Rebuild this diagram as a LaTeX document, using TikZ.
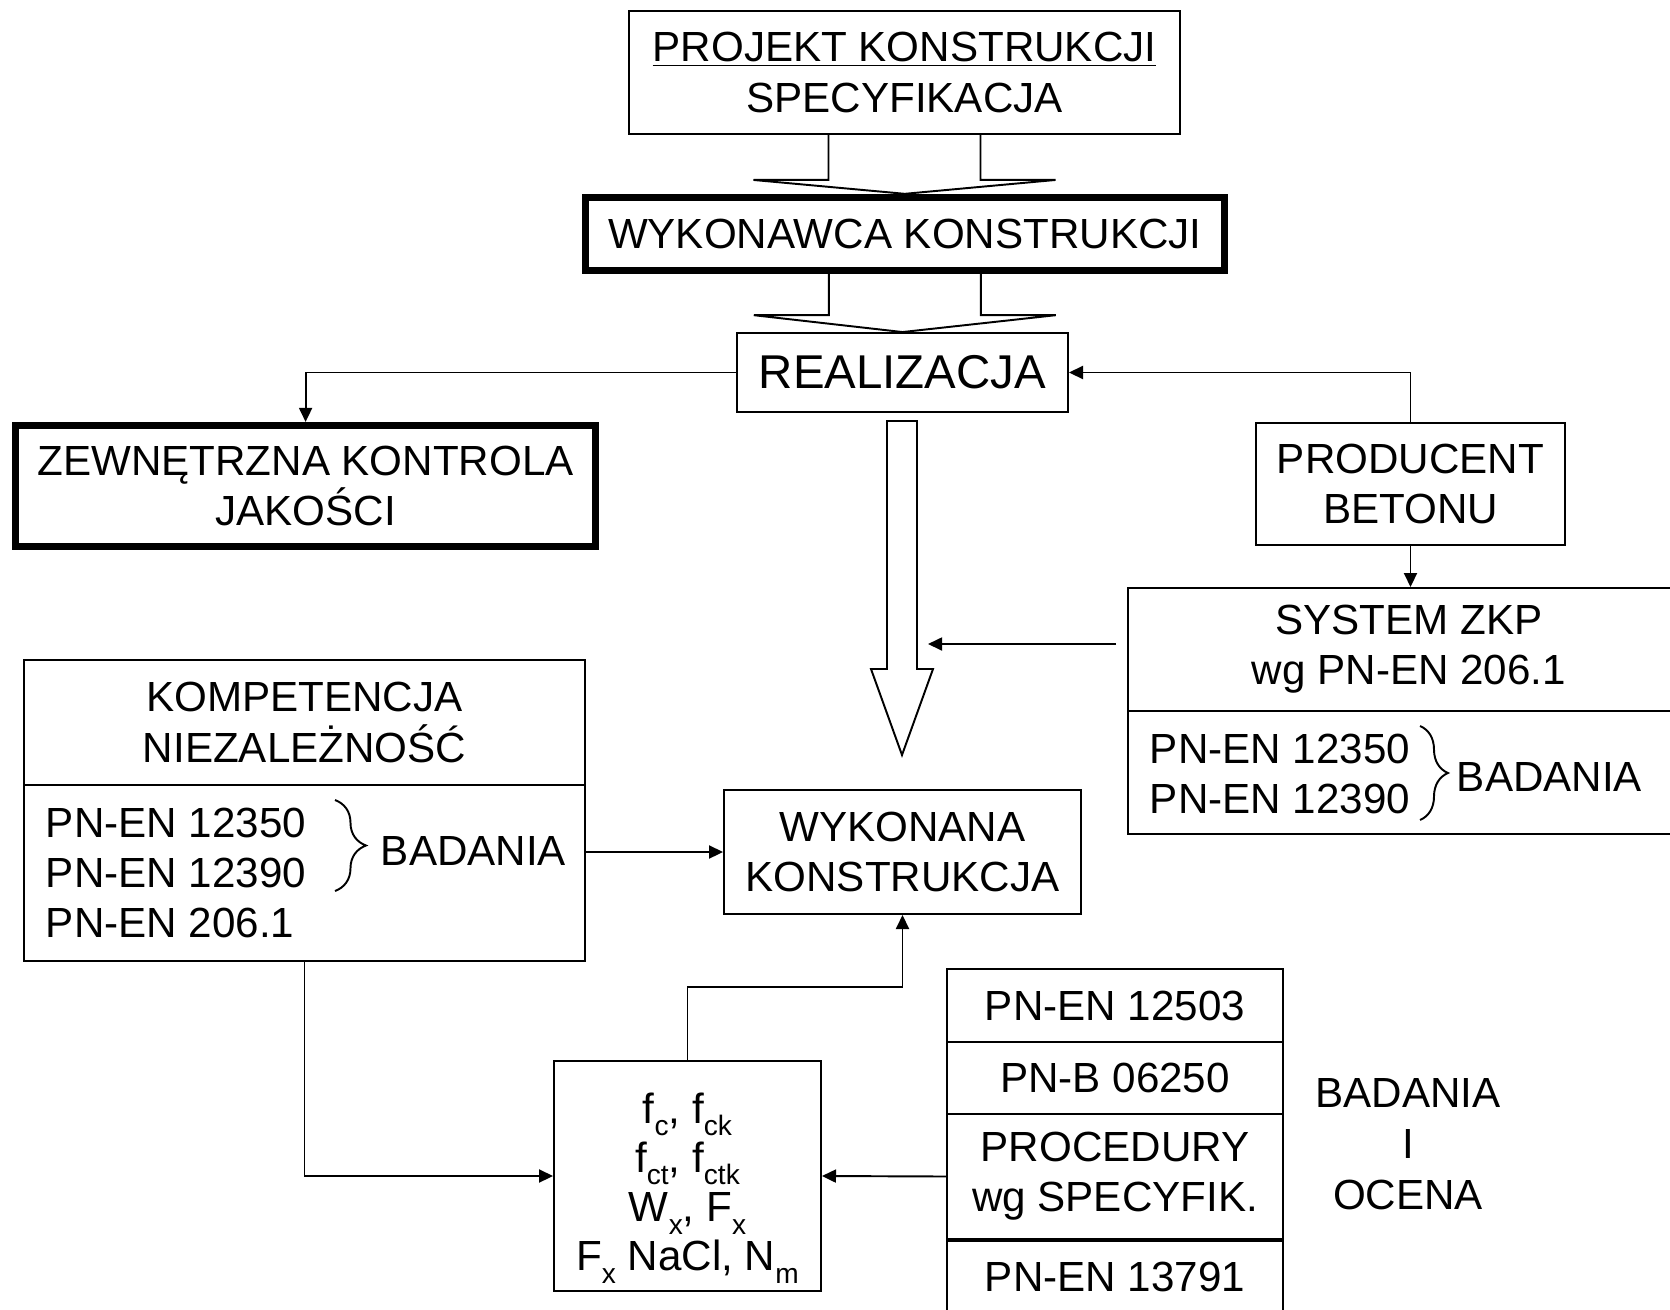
\documentclass[tikz,border=0pt]{standalone}
\usepackage{fontspec}
\setmainfont{Liberation Sans}
\usepackage{tikz}
\usetikzlibrary{arrows.meta,positioning,calc,decorations.pathreplacing}

\newcommand\lowidx[1]{\raisebox{-7pt}{\fontsize{16}{16}\selectfont #1}}

\begin{document}
\begin{tikzpicture}[
	x=0.02cm,y=-0.02cm,
	>={Triangle[length=8pt,width=7.4pt]},
	line width=1.1pt,
	every node/.style={font=\fontsize{24}{28.5}\selectfont},
	box/.style={draw, line width=1.1pt, inner sep=0pt, align=center},
	thickbox/.style={box, line width=4.2pt},
	txt/.style={inner sep=0pt, align=left},
	]
	
	\useasboundingbox (0,0) rectangle (1670,1309);
	\clip (0,0) rectangle (1670,1309);
	
	% --------------------------
	% Top: design, contractor, execution
	% --------------------------
	\node[box, minimum width=11.02cm, minimum height=2.46cm] (proj) at (904.5,72.5) {\underline{PROJEKT KONSTRUKCJI}\\SPECYFIKACJA};
	\node[thickbox, minimum width=12.78cm, minimum height=1.46cm] (wyk) at (904.8,234) {WYKONAWCA KONSTRUKCJI};
	\node[box, minimum width=6.62cm, minimum height=1.58cm, font=\fontsize{27}{32}\selectfont] (real) at (902.5,372.5) {REALIZACJA};
	
	% hollow block arrows
	\draw ($(proj.south)+(-76,0)$) -- ++(0,45) -- ++(-75,0) -- (wyk.north)
		-- ($(proj.south)+(151,45)$) -- ++(-75,0) -- ++(0,-45);
	\draw ($(wyk.south)+(-76,0)$) -- ++(0,41) -- ++(-75,0) -- (real.north)
		-- ($(wyk.south)+(151,41)$) -- ++(-75,0) -- ++(0,-41);
	
	% --------------------------
	% Left: external quality control
	% --------------------------
	\node[thickbox, minimum width=11.6cm, minimum height=2.42cm] (zewn) at (305.6,486.1) {ZEWNĘTRZNA KONTROLA\\JAKOŚCI};
	\node[box, minimum width=11.22cm, minimum height=2.5cm] (komptop) at (304.5,722.5) {KOMPETENCJA\\NIEZALEŻNOŚĆ};
	\node[box, minimum width=11.22cm, minimum height=3.52cm] (kompbot) at (304.5,873) {};
	\node[txt, anchor=west] (komppn) at (45,873) {PN-EN 12350\\PN-EN 12390\\PN-EN 206.1};
	\draw[decorate, decoration={brace, amplitude=0.62cm}] (335,800) -- (335,891);
	\node[txt, anchor=west] (kompbad) at (380,851) {BADANIA};
	
	% --------------------------
	% Right: concrete producer
	% --------------------------
	\node[box, minimum width=6.18cm, minimum height=2.44cm] (prod) at (1410.5,484) {PRODUCENT\\BETONU};
	\node[box, minimum width=11.24cm, minimum height=2.46cm] (systop) at (1409,649.5) {SYSTEM ZKP\\wg PN-EN 206.1};
	\node[box, minimum width=11.24cm, minimum height=2.46cm] (sysbot) at (1409,772.5) {};
	\node[txt, anchor=west] (syspn) at (1149,774) {PN-EN 12350\\PN-EN 12390};
	\draw[decorate, decoration={brace, amplitude=0.56cm}] (1420,726) -- (1420,820);
	\node[txt, anchor=west] (sysbad) at (1456,777) {BADANIA};
	
	% big hollow arrow down the middle
	\draw (887,421) -- (887,669) -- (871,669) -- (902,755) -- (933,669) -- (917,669) -- (917,421) -- cycle;
	\coordinate (hit) at (928,644);
	
	% --------------------------
	% Bottom: finished structure and tests
	% --------------------------
	\node[box, minimum width=7.14cm, minimum height=2.48cm] (wyko) at (902.5,852) {WYKONANA\\KONSTRUKCJA};
	\node[box, minimum width=5.34cm, minimum height=4.6cm] (form) at (687.5,1176) {};
	\node[txt, align=center, font=\fontsize{24}{28}\selectfont] (formtxt) at (687.5,1188)
		{f\lowidx{c}, f\lowidx{ck}\\f\lowidx{ct}, f\lowidx{ctk}\\W\lowidx{x}, F\lowidx{x}\\F\lowidx{x} NaCl, N\lowidx{m}};
	
	\node[box, minimum width=6.72cm, minimum height=1.46cm] (pn1) at (1115,1005.5) {PN-EN 12503};
	\node[box, minimum width=6.72cm, minimum height=1.44cm] (pn2) at (1115,1078) {PN-B 06250};
	\node[box, minimum width=6.72cm, minimum height=2.5cm] (proc) at (1115,1176.5) {PROCEDURY\\wg SPECYFIK.};
	\node[box, minimum width=6.72cm, minimum height=1.44cm] (pn4) at (1115,1277) {PN-EN 13791};
	\node[txt, align=center, font=\fontsize{24}{29}\selectfont] (ocena) at (1408,1144) {BADANIA\\I\\OCENA};
	
	% connectors
	\draw[->] (real.west) -| (zewn.north);
	\draw[->] (prod.north) |- (real.east);
	\draw[->] (prod.south) -- (prod.south |- systop.north);
	\draw[->] (hit -| systop.west) ++(-11,0) -- (hit);
	\draw[->] (kompbot.east |- wyko.west) -- (wyko.west);
	\draw[->] (kompbot.south) |- (form.west);
	\draw[->] (form.north) -- ++(0,-73) -| (wyko.south);
	\draw[->] (proc.west) -- (form.east);
	
\end{tikzpicture}
\end{document}
